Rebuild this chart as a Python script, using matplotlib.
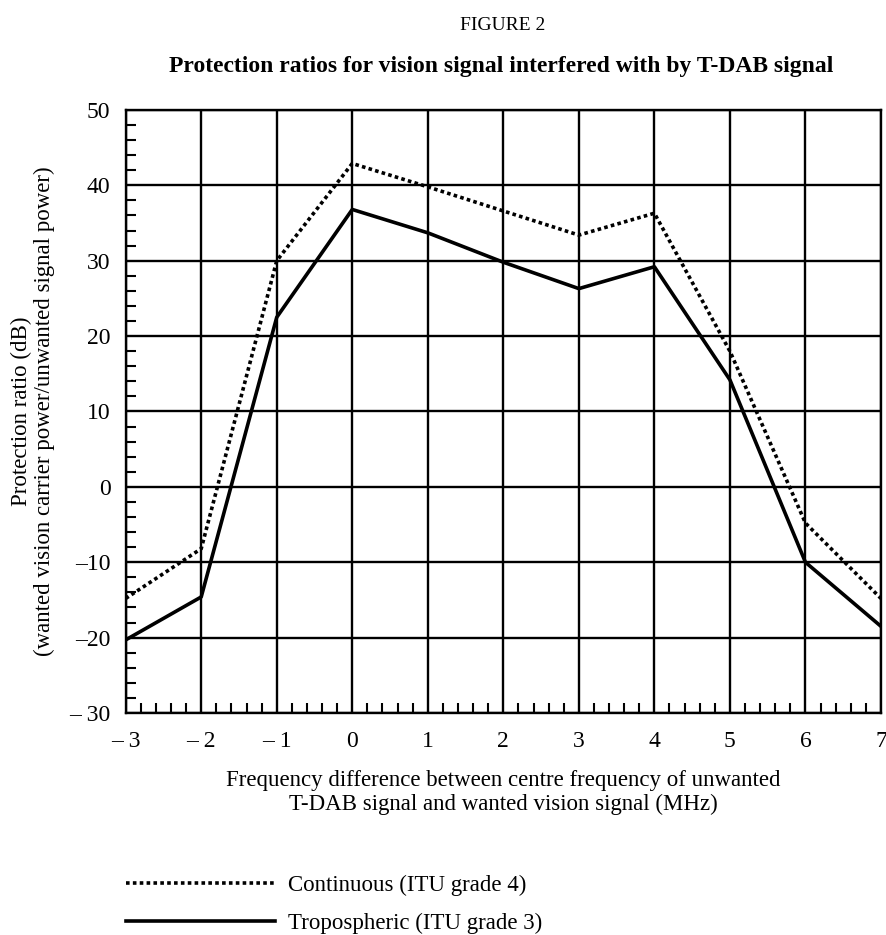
import matplotlib
matplotlib.use("Agg")
from matplotlib import pyplot as plt
from matplotlib.ticker import MultipleLocator, FixedLocator

plt.rcParams['font.family'] = ['Liberation Serif', 'DejaVu Serif']

# data
freq = [-3, -2, -1, 0, 1, 2, 3, 4, 5, 6, 7]
continuous = [-14.8, -8.2, 30.0, 42.9, 39.8, 36.6, 33.4, 36.3, 18.0, -4.8, -14.8]
tropospheric = [-20.3, -14.6, 22.5, 36.8, 33.7, 29.8, 26.3, 29.2, 14.2, -10.0, -18.5]

x_ticks = [-3, -2, -1, 0, 1, 2, 3, 4, 5, 6, 7]
x_labels = ["\u2013 3", "\u2013 2", "\u2013 1", "0", "1", "2", "3", "4", "5", "6", "7"]
y_ticks = [-30, -20, -10, 0, 10, 20, 30, 40, 50]
y_labels = ["\u2013 30", "\u201320", "\u201310", "0", "10", "20", "30", "40", "50"]

fig = plt.figure(figsize=(8.87, 9.35), dpi=100)
ax = fig.add_axes([0.1417, 0.2374, 0.8515, 0.645])

ax.plot(freq, continuous, color="black", linewidth=2.6, linestyle=(0, (1, 0.9)),
        dash_capstyle="butt", label="Continuous (ITU grade 4)", zorder=3)
ax.plot(freq, tropospheric, color="black", linewidth=2.6, linestyle="-",
        label="Tropospheric (ITU grade 3)", zorder=3)

ax.set_xlim(-3, 7)
ax.set_ylim(-30, 50)
ax.xaxis.set_major_locator(FixedLocator(x_ticks))
ax.yaxis.set_major_locator(FixedLocator(y_ticks))
ax.set_xticklabels(x_labels)
ax.set_yticklabels(y_labels)
ax.xaxis.set_minor_locator(MultipleLocator(0.2))
ax.yaxis.set_minor_locator(MultipleLocator(2))
ax.tick_params(which="both", direction="in", top=False, right=False)
ax.tick_params(which="major", length=0, labelsize=17, pad=11)
ax.tick_params(axis="x", which="major", pad=13)
ax.tick_params(which="minor", length=7, width=1.5, color="black")
ax.grid(True, which="major", color="black", linewidth=1.7)
for s in ax.spines.values():
    s.set_linewidth(1.7)

ax.set_ylabel("Protection ratio (dB)\n(wanted vision carrier power/unwanted signal power)",
              fontsize=16.5, labelpad=10, linespacing=1.1)
ax.set_xlabel("Frequency difference between centre frequency of unwanted\n"
              "T-DAB signal and wanted vision signal (MHz)",
              fontsize=16.5, labelpad=13, linespacing=1.15)

fig.text(0.567, 0.968, "FIGURE 2", ha="center", va="baseline", fontsize=14)
fig.text(0.5654, 0.923, "Protection ratios for vision signal interfered with by T-DAB signal",
         ha="center", va="baseline", fontsize=17, fontweight="bold")

ax.legend(loc="upper left", bbox_to_anchor=(0.0, -0.268), frameon=False,
          fontsize=16.5, handlelength=6.5, handletextpad=0.57, labelspacing=0.74,
          borderaxespad=0, borderpad=0)

fig.savefig("out.png", dpi=100)
